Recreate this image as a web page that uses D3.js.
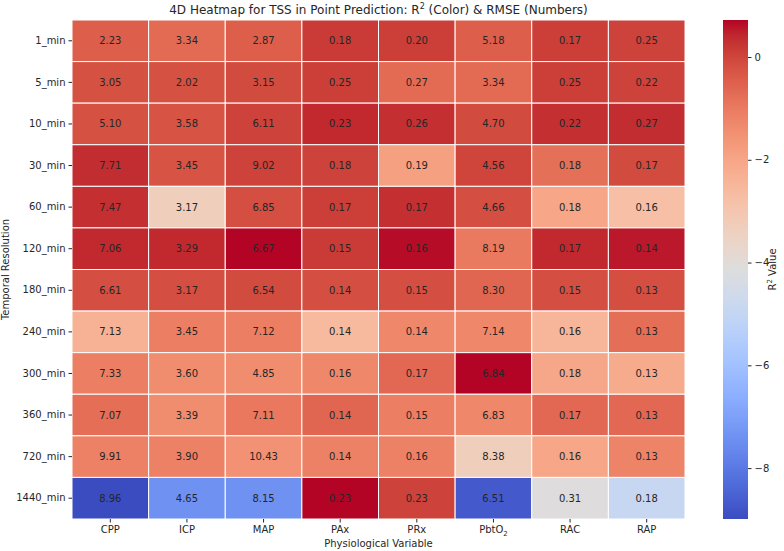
<!DOCTYPE html>
<html lang="en">
<head>
<meta charset="utf-8">
<title>4D Heatmap</title>
<script src="https://cdn.jsdelivr.net/npm/d3@7"></script>
<style>
  body { margin: 0; background: #fff; }
  text { font-family: "DejaVu Sans", sans-serif; fill: #262626; }
</style>
</head>
<body>
<script>
// rows / columns of the heatmap
var rows = ["1_min", "5_min", "10_min", "30_min", "60_min", "120_min",
            "180_min", "240_min", "300_min", "360_min", "720_min", "1440_min"];
var cols = ["CPP", "ICP", "MAP", "PAx", "PRx", "PbtO2", "RAC", "RAP"];

// numbers printed in the cells (RMSE)
var rmse = [
  [2.23, 3.34, 2.87, 0.18, 0.20, 5.18, 0.17, 0.25],
  [3.05, 2.02, 3.15, 0.25, 0.27, 3.34, 0.25, 0.22],
  [5.10, 3.58, 6.11, 0.23, 0.26, 4.70, 0.22, 0.27],
  [7.71, 3.45, 9.02, 0.18, 0.19, 4.56, 0.18, 0.17],
  [7.47, 3.17, 6.85, 0.17, 0.17, 4.66, 0.18, 0.16],
  [7.06, 3.29, 6.67, 0.15, 0.16, 8.19, 0.17, 0.14],
  [6.61, 3.17, 6.54, 0.14, 0.15, 8.30, 0.15, 0.13],
  [7.13, 3.45, 7.12, 0.14, 0.14, 7.14, 0.16, 0.13],
  [7.33, 3.60, 4.85, 0.16, 0.17, 6.84, 0.18, 0.13],
  [7.07, 3.39, 7.11, 0.14, 0.15, 6.83, 0.17, 0.13],
  [9.91, 3.90, 10.43, 0.14, 0.16, 8.38, 0.16, 0.13],
  [8.96, 4.65, 8.15, 0.23, 0.23, 6.51, 0.31, 0.18]
];

// colour values (R2)
var r2 = [
  [-0.45, -0.70, -0.45, 0.15, 0.10, -0.45, 0.10, 0.05],
  [-0.20, -0.20, -0.10, 0.10, -0.70, -0.70, 0.10, 0.05],
  [-0.20, -0.25, 0.05, 0.40, 0.30, -0.10, 0.30, 0.35],
  [0.35, -0.25, 0.05, 0.05, -1.85, 0.00, -0.80, -0.10],
  [0.30, -3.30, -0.15, 0.10, 0.30, -0.15, -2.00, -2.75],
  [0.40, 0.40, 0.72, 0.15, 0.65, -1.00, 0.40, 0.55],
  [-0.15, -0.15, -0.10, -0.15, -0.15, -0.60, -0.15, -0.15],
  [-2.35, -1.10, -1.10, -2.60, -1.30, -1.30, -2.45, -0.75],
  [-1.10, -1.40, -1.40, -1.30, -0.65, 0.72, -2.05, -2.15],
  [-0.75, -1.40, -0.95, -0.60, -1.10, -1.30, -0.65, -0.65],
  [-1.15, -1.15, -1.50, -1.15, -1.15, -3.30, -2.00, -1.20],
  [-8.99, -7.40, -7.40, 0.72, 0.05, -8.70, -4.10, -4.90]
];

var cbarTicks = [0, -2, -4, -6, -8];

// matplotlib coolwarm control points
var coolwarm = [
  [0.2298, 0.2987, 0.7537], [0.2662, 0.3531, 0.8015], [0.3039, 0.4065, 0.8450],
  [0.3428, 0.4588, 0.8837], [0.3830, 0.5094, 0.9174], [0.4244, 0.5581, 0.9456],
  [0.4667, 0.6046, 0.9682], [0.5096, 0.6483, 0.9848], [0.5530, 0.6889, 0.9954],
  [0.5963, 0.7261, 0.9998], [0.6392, 0.7596, 0.9982], [0.6813, 0.7890, 0.9904],
  [0.7222, 0.8140, 0.9766], [0.7615, 0.8343, 0.9569], [0.7987, 0.8498, 0.9317],
  [0.8335, 0.8602, 0.9011], [0.8654, 0.8654, 0.8654], [0.8978, 0.8489, 0.8209],
  [0.9241, 0.8274, 0.7745], [0.9445, 0.8009, 0.7267], [0.9589, 0.7698, 0.6780],
  [0.9673, 0.7341, 0.6288], [0.9700, 0.6943, 0.5794], [0.9668, 0.6504, 0.5303],
  [0.9580, 0.6028, 0.4818], [0.9437, 0.5518, 0.4342], [0.9239, 0.4973, 0.3880],
  [0.8990, 0.4396, 0.3432], [0.8692, 0.3783, 0.3003], [0.8346, 0.3129, 0.2593],
  [0.7956, 0.2413, 0.2205], [0.7525, 0.1572, 0.1841], [0.7057, 0.0156, 0.1502]
];

var W = 784, H = 551;
var mLeft = 72, mRight = 685, mTop = 20, mBottom = 519;
var cbX = 723, cbW = 25;

var flat = [];
rows.forEach(function(r, i) {
  cols.forEach(function(c, j) {
    flat.push({row: r, col: c, r2: r2[i][j], rmse: rmse[i][j]});
  });
});

var vmin = d3.min(flat, function(d) { return d.r2; });
var vmax = d3.max(flat, function(d) { return d.r2; });

var cmapColors = coolwarm.map(function(c) {
  return d3.rgb(c[0] * 255, c[1] * 255, c[2] * 255).formatHex();
});
var color = d3.scaleLinear()
  .domain(cmapColors.map(function(c, i) { return vmin + (vmax - vmin) * i / (cmapColors.length - 1); }))
  .range(cmapColors)
  .interpolate(d3.interpolateRgb)
  .clamp(true);

var x = d3.scaleBand().domain(cols).range([mLeft, mRight]);
var y = d3.scaleBand().domain(rows).range([mTop, mBottom]);

var svg = d3.select("body").append("svg")
  .attr("width", W)
  .attr("height", H);

// cells
svg.append("g").selectAll("rect")
  .data(flat)
  .enter()
  .append("rect")
  .attr("x", function(d) { return x(d.col); })
  .attr("y", function(d) { return y(d.row); })
  .attr("width", x.bandwidth())
  .attr("height", y.bandwidth())
  .attr("fill", function(d) { return color(d.r2); })
  .attr("stroke", "#fff")
  .attr("stroke-width", 1);

// annotations
svg.append("g").selectAll("text")
  .data(flat)
  .enter()
  .append("text")
  .attr("x", function(d) { return x(d.col) + x.bandwidth() / 2; })
  .attr("y", function(d) { return y(d.row) + y.bandwidth() / 2; })
  .attr("dy", "0.35em")
  .attr("text-anchor", "middle")
  .attr("font-size", 10)
  .text(function(d) { return d.rmse.toFixed(2); });

// x axis
var xAxis = svg.append("g")
  .attr("transform", "translate(0," + mBottom + ")")
  .call(d3.axisBottom(x).tickSize(3.5).tickPadding(3));
xAxis.select(".domain").remove();
xAxis.selectAll("text").attr("font-size", 10).attr("font-family", "DejaVu Sans").attr("fill", "#262626");
xAxis.selectAll("line").attr("stroke", "#262626");
xAxis.selectAll("text").filter(function(d) { return d == "PbtO2"; })
  .text("PbtO")
  .append("tspan")
  .attr("font-size", 7)
  .attr("dy", 3)
  .text("2");

// y axis
var yAxis = svg.append("g")
  .attr("transform", "translate(" + mLeft + ",0)")
  .call(d3.axisLeft(y).tickSize(3.5).tickPadding(3));
yAxis.select(".domain").remove();
yAxis.selectAll("text").attr("font-size", 10).attr("font-family", "DejaVu Sans").attr("fill", "#262626");
yAxis.selectAll("line").attr("stroke", "#262626");

// axis labels + title
svg.append("text")
  .attr("x", (mLeft + mRight) / 2)
  .attr("y", 547)
  .attr("text-anchor", "middle")
  .attr("font-size", 10)
  .text("Physiological Variable");

svg.append("text")
  .attr("transform", "translate(9," + (mTop + mBottom) / 2 + ") rotate(-90)")
  .attr("text-anchor", "middle")
  .attr("font-size", 10)
  .text("Temporal Resolution");

var title = svg.append("text")
  .attr("x", (mLeft + mRight) / 2)
  .attr("y", 14)
  .attr("text-anchor", "middle")
  .attr("font-size", 12)
  .text("4D Heatmap for TSS in Point Prediction: R");
title.append("tspan").attr("font-size", 8).attr("dy", -5).text("2");
title.append("tspan").attr("dy", 5).text(" (Color) & RMSE (Numbers)");

// colour bar
var defs = svg.append("defs");
var grad = defs.append("linearGradient")
  .attr("id", "cbar")
  .attr("x1", 0).attr("y1", 1).attr("x2", 0).attr("y2", 0);
grad.selectAll("stop")
  .data(cmapColors)
  .enter()
  .append("stop")
  .attr("offset", function(d, i) { return i / (cmapColors.length - 1); })
  .attr("stop-color", function(d) { return d; });

svg.append("rect")
  .attr("x", cbX)
  .attr("y", mTop)
  .attr("width", cbW)
  .attr("height", mBottom - mTop)
  .attr("fill", "url(#cbar)");

var cb = d3.scaleLinear().domain([vmin, vmax]).range([mBottom, mTop]);
var cbAxis = svg.append("g")
  .attr("transform", "translate(" + (cbX + cbW) + ",0)")
  .call(d3.axisRight(cb).tickValues(cbarTicks).tickSize(3.5).tickPadding(3));
cbAxis.select(".domain").remove();
cbAxis.selectAll("text").attr("font-size", 10).attr("font-family", "DejaVu Sans").attr("fill", "#262626");
cbAxis.selectAll("line").attr("stroke", "#262626");

var cbLabel = svg.append("text")
  .attr("transform", "translate(776," + (mTop + mBottom) / 2 + ") rotate(-90)")
  .attr("text-anchor", "middle")
  .attr("font-size", 10)
  .text("R");
cbLabel.append("tspan").attr("font-size", 7).attr("dy", -4).text("2");
cbLabel.append("tspan").attr("dy", 4).text(" Value");
</script>
</body>
</html>
